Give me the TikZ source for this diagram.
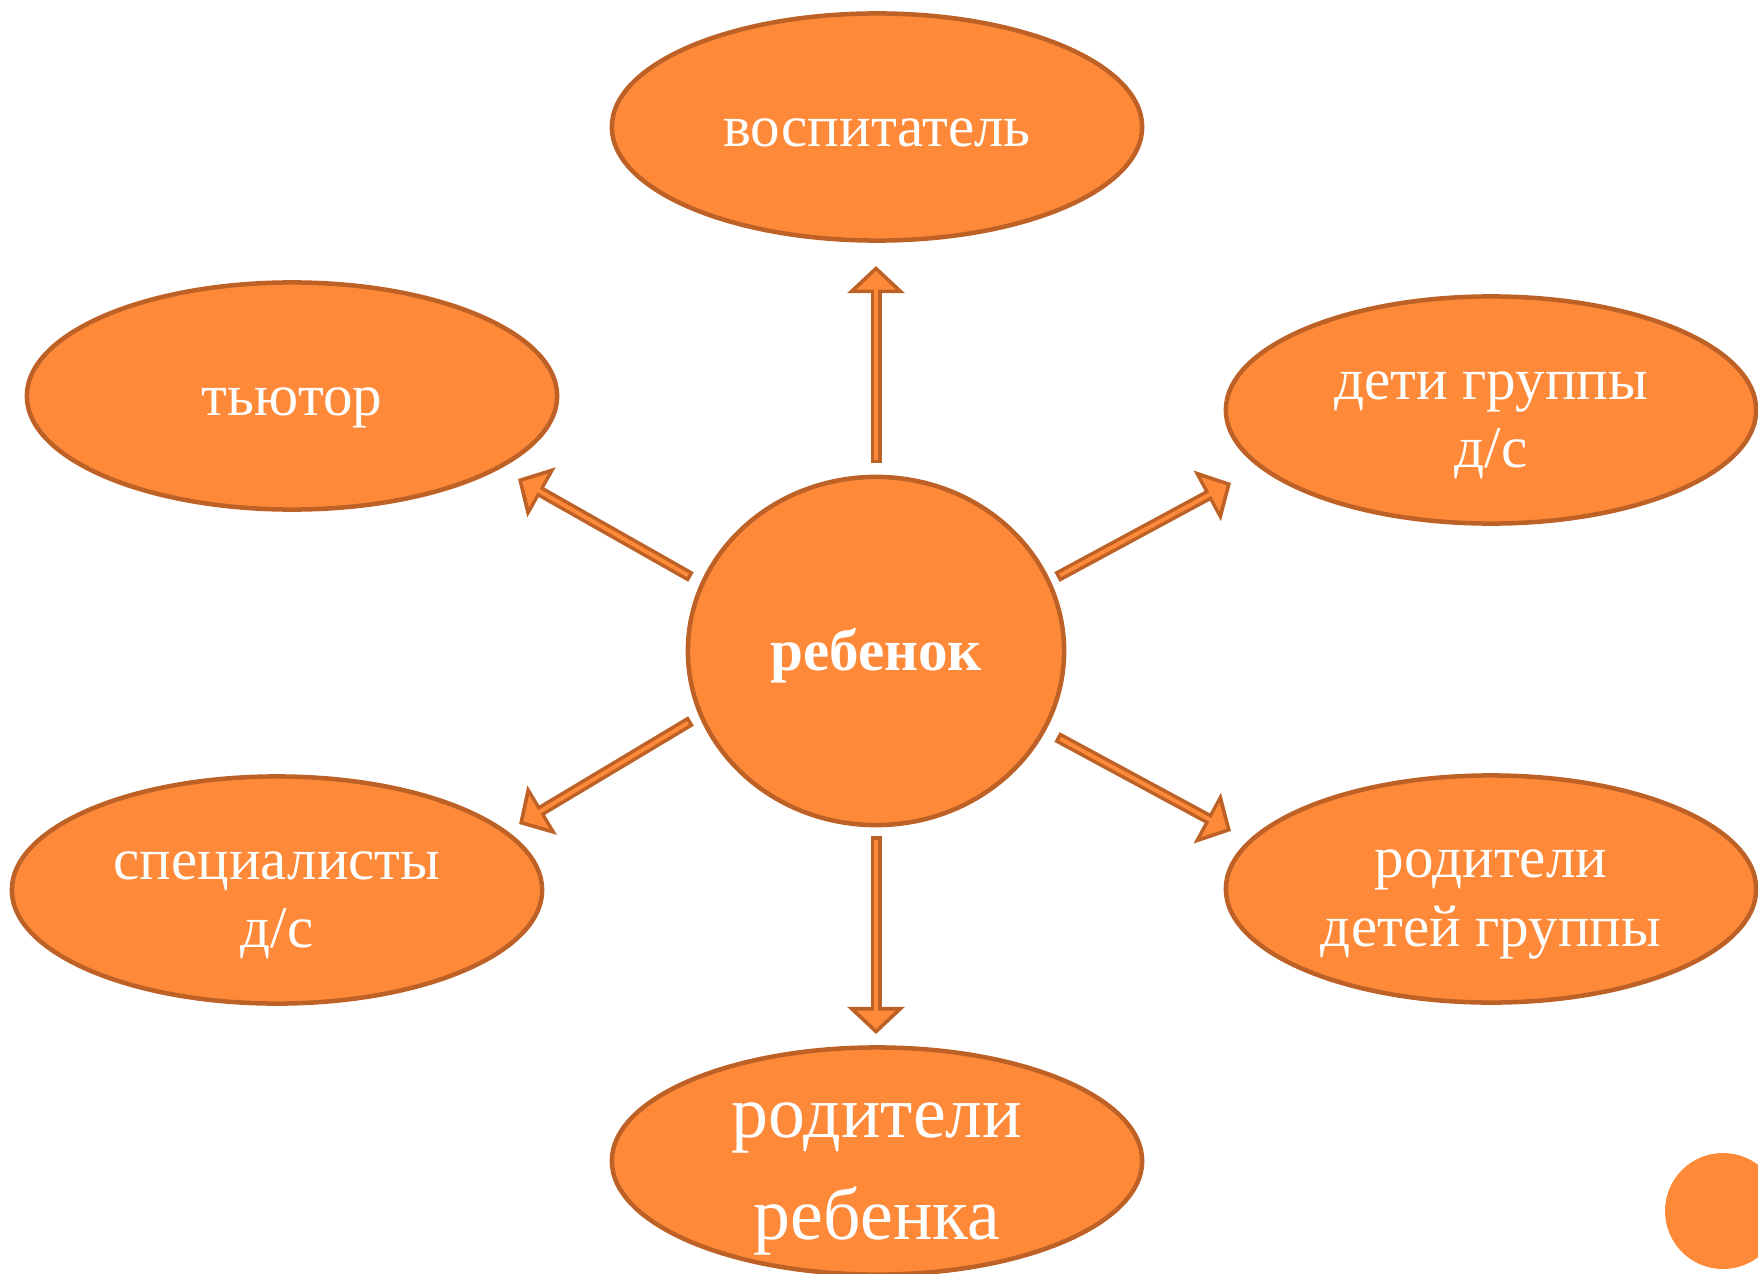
\documentclass[tikz,border=0pt]{standalone}
\usepackage{fontspec}
\setmainfont{Liberation Serif}
\usetikzlibrary{shapes.geometric,arrows.meta}
\definecolor{boxfill}{RGB}{253,137,57}
\definecolor{boxline}{RGB}{190,97,38}
\tikzset{
  bubble/.style={ellipse, draw=boxline, line width=0.045cm, fill=boxfill,
    text=white, font=\fontsize{16.8}{19.5}\selectfont, align=center,
    minimum width=5.3cm, minimum height=2.27cm, inner xsep=0pt, inner ysep=-0.5cm},
}
\newcommand*{\TopStrut}[1]{\rule[-0.25em]{0pt}{#1}}
\newcommand*{\BlockArrow}[2]{% #1 = start, #2 = tip
\draw [boxline, line width=0.11cm, -{Triangle[width=0.56cm,length=0.27cm]}] (#1) -- (#2);
\draw [boxfill, line width=0.04cm, shorten <=0.035cm, shorten >=0.05cm,
  -{Triangle[width=0.38cm,length=0.185cm]}] (#1) -- (#2);
}

\begin{document}
\begin{tikzpicture}[x=0.01cm, y=-0.01cm]
\useasboundingbox (0,0) rectangle (1758,1273);

% nodes
\node [bubble] (educator) at (877,127) {\TopStrut{1.16em}воспитатель};
\node [bubble] (tutor) at (292,396) {\TopStrut{1.16em}тьютор};
\node [bubble] (groupkids) at (1491,410) {\TopStrut{1.24em}дети группы\\д/с};
\node [bubble] (specialists) at (277,890) {\TopStrut{1.24em}специалисты\\д/с};
\node [bubble] (groupparents) at (1491,889) {\TopStrut{1.24em}родители\\детей группы};
\node [bubble, font=\fontsize{21}{29}\selectfont] (parents) at (877,1161) {\TopStrut{1.2em}родители\\ребенка};
\node [bubble, minimum width=3.76cm, minimum height=3.48cm,
  font=\bfseries\fontsize{16.8}{19.5}\selectfont] (child) at (876,651) {\TopStrut{1.16em}ребенок};

% decoration circle
\fill [boxfill] (1723,1211) circle (58);

% arrows
\coordinate (upS) at (876,463);   \coordinate (upT) at (876,266);
\coordinate (dnS) at (876,836);   \coordinate (dnT) at (876,1034);
\coordinate (ulS) at (691,577);   \coordinate (ulT) at (518,479);
\coordinate (urS) at (1057,577);  \coordinate (urT) at (1231,483);
\coordinate (llS) at (691,721);   \coordinate (llT) at (519,824);
\coordinate (lrS) at (1057,737);  \coordinate (lrT) at (1231,831);
\foreach \a in {up,dn,ul,ur,ll,lr} {
  \BlockArrow{\a S}{\a T}
}

\end{tikzpicture}
\end{document}
